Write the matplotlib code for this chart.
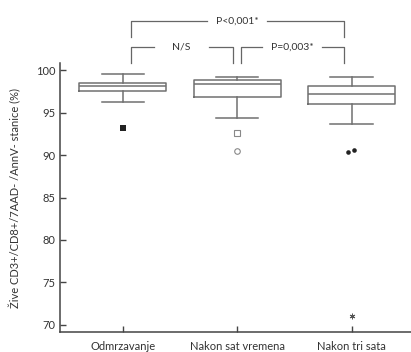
import matplotlib
matplotlib.use("Agg")
import matplotlib.pyplot as plt

plt.rcParams["font.family"] = ["Lato", "DejaVu Sans"]

groups = ["Odmrzavanje", "Nakon sat vremena", "Nakon tri sata"]
whislo = [96.25, 94.4, 93.65]
q1 = [97.55, 96.85, 96.05]
med = [98.1, 98.4, 97.15]
q3 = [98.5, 98.8, 98.1]
whishi = [99.5, 99.25, 99.25]

# outliers: (group index, value, marker, filled)
outliers = [
    (0, 93.2, "s", True),
    (1, 92.6, "s", False),
    (1, 90.5, "o", False),
    (2, 90.4, "o", True),
    (2, 90.55, "o", True),
    (2, 71.1, "*", False),
]
outlier_dx = [0, 0, 0, -0.03, 0.025, 0]

brackets = [
    # (x start, x end, label, level)
    (1, 3, "P<0,001*", 2),
    (1, 2, "N/S", 1),
    (2, 3, "P=0,003*", 1),
]

box_color = "#707070"
text_color = "#333333"

fig = plt.figure(figsize=(4.11, 3.52), dpi=100)
ax = fig.add_axes([0.146, 0.056, 0.854, 0.765])

stats = [
    dict(whislo=whislo[i], q1=q1[i], med=med[i], q3=q3[i], whishi=whishi[i], label=groups[i])
    for i in range(len(groups))
]
line = dict(color=box_color, linewidth=1.1)
ax.bxp(stats, positions=[1, 2, 3], widths=0.76, showfliers=False,
       boxprops=line, whiskerprops=line, capprops=line,
       medianprops=dict(color=box_color, linewidth=1.1), capwidths=0.37)

for (g, v, m, filled), dx in zip(outliers, outlier_dx):
    x = g + 1 + dx
    if m == "*":
        ax.plot(x, v, marker=(6, 2, 0), ms=4, color="#555555", mew=0.7, ls="none")
    elif filled:
        ax.plot(x, v, marker=m, ms=4 if m == "s" else 3.3, color="#222222",
                mew=0, ls="none")
    else:
        ax.plot(x, v, marker=m, ms=4, mfc="white", mec="#888888", mew=0.8, ls="none")

ax.set_xlim(0.45, 3.52)
ax.set_ylim(69.13, 100.84)
ax.set_yticks([70, 75, 80, 85, 90, 95, 100])
ax.set_xticks([1, 2, 3])
ax.set_xticklabels(groups)
ax.tick_params(direction="in", length=4, width=1, color="#444444",
               labelsize=8, labelcolor=text_color)
ax.tick_params(axis="x", pad=6)
for s in ["top", "right"]:
    ax.spines[s].set_visible(False)
for s in ["left", "bottom"]:
    ax.spines[s].set_color("#444444")
    ax.spines[s].set_linewidth(1.1)

ax.set_ylabel("Žive CD3+/CD8+/7AAD- /AnnV- stanice (%)", fontsize=8,
              color=text_color, labelpad=10)

# significance brackets
levels = {1: (100.85, 102.7), 2: (103.9, 105.8)}
for x0, x1, label, lvl in brackets:
    lo, hi = levels[lvl]
    a = x0 + 0.067 if x0 == 1 else x0 + 0.03
    b = x1 - 0.07 if x1 == 3 else x1 - 0.04
    mid = (a + b) / 2
    half = 0.24 if len(label) < 5 else 0.26
    kw = dict(color="#666666", lw=0.9, clip_on=False)
    ax.plot([a, a, mid - half], [lo, hi, hi], **kw)
    ax.plot([mid + half, b, b], [hi, hi, lo], **kw)
    ax.text(mid, hi, label, ha="center", va="center", fontsize=7.5,
            color=text_color, clip_on=False)

fig.savefig("out.png", dpi=100)
